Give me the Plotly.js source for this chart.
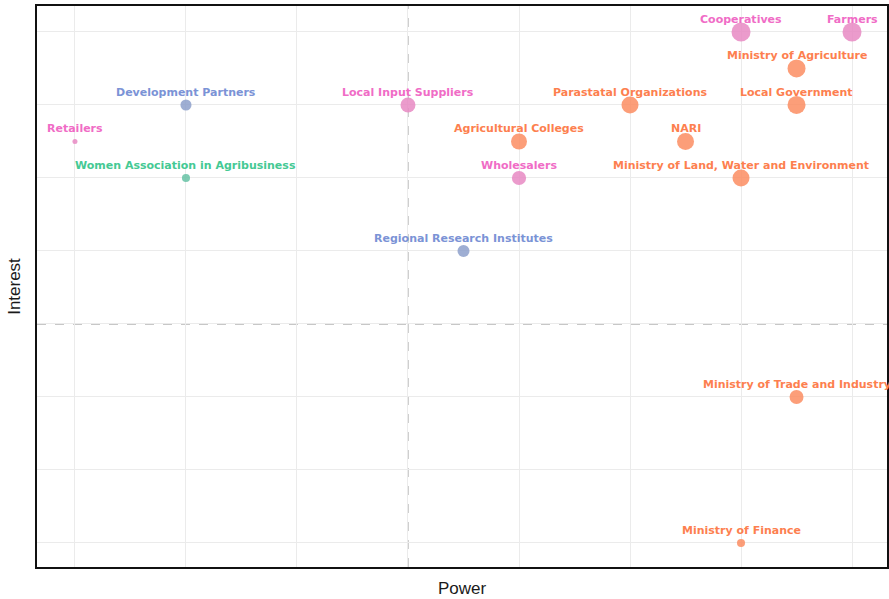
<!DOCTYPE html>
<html>
<head>
<meta charset="utf-8">
<script src="https://cdn.plot.ly/plotly-3.0.1.min.js"></script>
<style>html,body{margin:0;padding:0;background:#fff;}#chart{width:889px;height:599px;}</style>
</head>
<body>
<div id="chart"></div>
<script>
// Data
const stakeholders = ["Farmers","Cooperatives","Ministry of Agriculture","Local Government","Parastatal Organizations","NARI","Ministry of Land, Water and Environment","Agricultural Colleges","Wholesalers","Local Input Suppliers","Development Partners","Retailers","Women Association in Agribusiness","Regional Research Institutes","Ministry of Trade and Industry","Ministry of Finance"];
const power    = [8, 7, 7.5, 7.5, 6, 6.5, 7, 5, 5, 4, 2, 1, 2, 4.5, 7.5, 7];
const interest = [8, 8, 7.5, 7, 7, 6.5, 6, 6.5, 6, 7, 7, 6.5, 6, 5, 3, 1];
const influence = [100, 100, 90, 90, 80, 80, 80, 71, 56, 62, 34, 7, 18, 40, 54, 18];
const group = ["Community","Community","Government","Government","Government","Government","Government","Government","Community","Community","Donor","Community","Civil Society","Donor","Government","Government"];
const powerMid = 4;
const interestMid = 4;

const markerColors = {"Community":"#e78ac3","Government":"#fc8d62","Donor":"#8da0cb","Civil Society":"#66c2a5"};
const textColors = {"Community":"#f06cc6","Government":"#fd7f4f","Donor":"#7b93d6","Civil Society":"#45c994"};

const maxDiam = 19;
const trace = {
  type: "scatter",
  mode: "markers",
  x: power,
  y: interest,
  text: stakeholders,
  hoverinfo: "text",
  marker: {
    size: influence,
    sizemode: "area",
    sizeref: 2 * Math.max(...influence) / (maxDiam * maxDiam),
    color: group.map(g => markerColors[g]),
    opacity: 0.85,
    line: {width: 0}
  },
  showlegend: false,
  cliponaxis: false
};

const annotations = stakeholders.map((s, i) => ({
  x: power[i], y: interest[i], xref: "x", yref: "y",
  text: s, showarrow: false, yshift: 12.5,
  xanchor: "center", yanchor: "middle",
  font: {family: "DejaVu Sans, Verdana, sans-serif", size: 11, weight: "bold", color: textColors[group[i]]}
}));

const titleFont = {family: "Liberation Sans, Arial, sans-serif", size: 17, color: "#1a1a1a"};
const layout = {
  width: 889, height: 599,
  margin: {l: 37, r: 2, t: 6, b: 32},
  paper_bgcolor: "#fff", plot_bgcolor: "#fff",
  showlegend: false,
  xaxis: {
    range: [0.658, 8.315], tick0: 1, dtick: 1, showticklabels: false, ticks: "",
    showgrid: true, gridcolor: "#ebebeb", gridwidth: 1, zeroline: false,
    showline: true, mirror: true, linecolor: "#111", linewidth: 2,
    title: {text: "Power", font: titleFont, standoff: 14}
  },
  yaxis: {
    range: [0.671, 8.356], tick0: 1, dtick: 1, showticklabels: false, ticks: "",
    showgrid: true, gridcolor: "#ebebeb", gridwidth: 1, zeroline: false,
    showline: true, mirror: true, linecolor: "#111", linewidth: 2,
    title: {text: "Interest", font: titleFont, standoff: 10}
  },
  shapes: [
    {type: "line", xref: "x", yref: "paper", x0: powerMid, x1: powerMid, y0: 0, y1: 1, line: {color: "#b5b5b5", width: 1.3, dash: "dash"}, layer: "below"},
    {type: "line", xref: "paper", yref: "y", x0: 0, x1: 1, y0: interestMid, y1: interestMid, line: {color: "#b5b5b5", width: 1.3, dash: "dash"}, layer: "below"}
  ],
  annotations: annotations
};

Plotly.newPlot("chart", [trace], layout, {displayModeBar: false, staticPlot: true});
</script>
</body>
</html>
